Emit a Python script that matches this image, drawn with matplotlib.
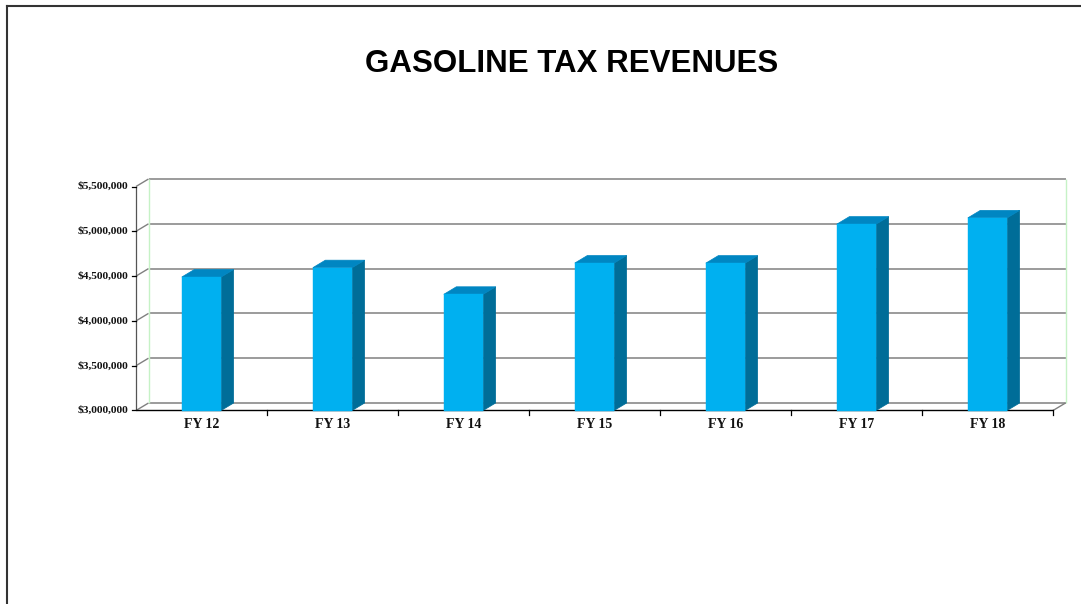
import matplotlib
matplotlib.use("Agg")
import matplotlib.pyplot as plt
from matplotlib.patches import Polygon
from matplotlib.lines import Line2D

categories = ["FY 12", "FY 13", "FY 14", "FY 15", "FY 16", "FY 17", "FY 18"]
revenues = [4490000, 4594000, 4297000, 4646000, 4645000, 5080000, 5150000]
y_ticks = [3000000, 3500000, 4000000, 4500000, 5000000, 5500000]
title = "GASOLINE TAX REVENUES"

W, H, DPI = 1081, 604, 100
fig = plt.figure(figsize=(W / DPI, H / DPI), dpi=DPI)
fig.patch.set_facecolor("white")

# front plane of the 3D box in pixels
fl, fr, fb, ft = 136, 1053, 410.5, 186.5
ax = fig.add_axes([fl / W, (H - fb) / H, (fr - fl) / W, (fb - ft) / H])
ax.set_xlim(0, len(categories))
ax.set_ylim(y_ticks[0], y_ticks[-1])
ax.axis("off")

sx = (fr - fl) / len(categories)
sy = (fb - ft) / (y_ticks[-1] - y_ticks[0])
ddx = 12.5 / sx
ddy = 7.5 / sy
x0, x1 = 0, len(categories)
y0, y1 = y_ticks[0], y_ticks[-1]

grid_c = "#808080"
green_c = "#c6f2c6"

def line(xs, ys, c, lw=1.0, z=1):
    ax.add_line(Line2D(xs, ys, color=c, lw=lw, zorder=z, clip_on=False,
                       solid_capstyle="butt"))

# back wall gridlines + left wall diagonals
for yt in y_ticks:
    line([x0 + ddx, x1 + ddx], [yt + ddy, yt + ddy], grid_c, 1.1)
    line([x0, x0 + ddx], [yt, yt + ddy], grid_c, 1.0)
    # y tick
    ax.add_line(Line2D([-4 / sx, 0], [yt, yt], color="black", lw=0.9,
                       clip_on=False, zorder=3))
    ax.text(-8 / sx, yt, "${:,.0f}".format(yt), ha="right", va="center",
            fontsize=8.2, fontweight="bold", family="Liberation Serif",
            color="#111111")

# wall edges
line([x0 + ddx, x0 + ddx], [y0 + ddy, y1 + ddy], green_c, 1.0)
line([x1 + ddx, x1 + ddx], [y0 + ddy, y1 + ddy], green_c, 1.0)
line([x0, x0], [y0, y1], "#555555", 0.9, 2)
line([x1, x1 + ddx], [y0, y0 + ddy], grid_c, 1.0)
line([x0, x1], [y0, y0], "black", 1.0, 2)

# x ticks
for k in range(1, len(categories) + 1):
    ax.add_line(Line2D([k, k], [y0, y0 - 5 / sy], color="black", lw=0.9,
                       clip_on=False, zorder=3))

# bars
front_c = "#00b0f0"
top_c = "#0086c2"
side_c = "#006d98"
bw = 0.3
for i, (cat, v) in enumerate(zip(categories, revenues)):
    xl = i + 0.5 - bw / 2
    xr = i + 0.5 + bw / 2
    side = Polygon([(xr, y0), (xr + ddx, y0 + ddy), (xr + ddx, v + ddy), (xr, v)],
                   closed=True, fc=side_c, ec=side_c, lw=0.5, zorder=4, clip_on=False)
    top = Polygon([(xl, v), (xl + ddx, v + ddy), (xr + ddx, v + ddy), (xr, v)],
                  closed=True, fc=top_c, ec=top_c, lw=0.5, zorder=4, clip_on=False)
    ax.add_patch(side)
    ax.add_patch(top)
    ax.bar(i + 0.5, v - y0, bottom=y0, width=bw, color=front_c, zorder=5,
           clip_on=False, edgecolor=front_c, linewidth=0.3)
    ax.text(i + 0.5, y0 - 14.5 / sy, cat, ha="center", va="center", fontsize=10,
            fontweight="bold", family="Liberation Serif", color="#111111")

# title
fig.text(572 / W, 1 - 64 / H, title, ha="center", va="center", fontsize=22.5,
         fontweight="bold", family="Liberation Sans", color="black")

# outer border (top and left)
fig.add_artist(Line2D([7 / W, 1], [1 - 5.5 / H, 1 - 5.5 / H], color="#333333",
                      lw=1.5, transform=fig.transFigure))
fig.add_artist(Line2D([7 / W, 7 / W], [0, 1 - 5.5 / H], color="#333333",
                      lw=1.5, transform=fig.transFigure))

fig.savefig("out.png", dpi=DPI, facecolor="white")
